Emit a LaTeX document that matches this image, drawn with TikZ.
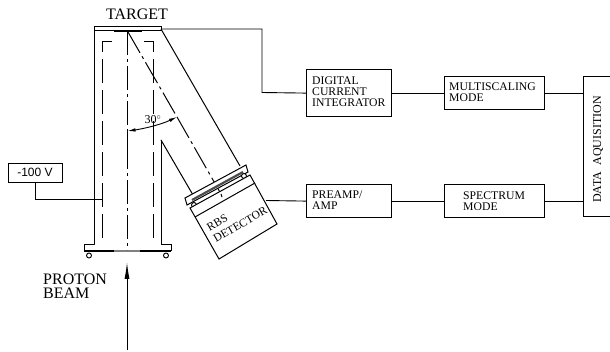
\documentclass[tikz,border=0pt]{standalone}
\usepackage{fontspec}
\setmainfont{Liberation Serif}
\newfontfamily\sansf{Liberation Sans}
\usetikzlibrary{arrows.meta}
\tikzset{
 x=1pt,y=-1pt,
 line/.style={line width=1pt,black},
 wire/.style={line width=0.9pt,black},
 blockbox/.style={draw,line width=1.2pt,inner sep=0pt,anchor=north west},
 blocklabel/.style={font=\fontsize{11.7}{11.3}\selectfont,align=left,anchor=west,inner sep=0pt},
 biglabel/.style={font=\fontsize{16}{14.5}\selectfont,align=left,inner sep=0pt},
 dashdot/.style={line width=1pt,dash pattern=on 24pt off 4pt on 3pt off 4pt},
 longdash/.style={line width=1pt,dash pattern=on 24pt off 7pt},
 pin/.style={draw,circle,line width=0.9pt,fill=white,inner sep=0pt,minimum size=5pt}
}
\begin{document}
\begin{tikzpicture}
\useasboundingbox (0,0) rectangle (610,352);
% blocks
\node[blockbox,minimum width=85pt,minimum height=47pt] (dci) at (306,69) {};
\node[blockbox,minimum width=100pt,minimum height=33pt] (msm) at (444,76) {};
\node[blockbox,minimum width=85pt,minimum height=33pt] (pre) at (306,184) {};
\node[blockbox,minimum width=100pt,minimum height=33pt] (spm) at (444,184) {};
\node[blockbox,minimum width=28pt,minimum height=140pt] (daq) at (583,76) {};
\node[blockbox,minimum width=54pt,minimum height=19pt] (hv) at (8,163) {};
\node[blocklabel] at (312,91.5) {DIGITAL\\CURRENT\\INTEGRATOR};
\node[blocklabel] at (449,92.5) {MULTISCALING\\MODE};
\node[blocklabel] at (312,200) {PREAMP/\\AMP};
\node[blocklabel] at (463,201) {SPECTRUM\\MODE};
\node[font=\fontsize{12}{12}\selectfont,rotate=90,inner sep=0pt] at (598,149.5) {DATA\ \ AQUISITION};
\node[font=\sansf\fontsize{12}{12}\selectfont,inner sep=0pt] at (35,172.5) {-100 V};
\node[biglabel] at (137,14) {TARGET};
\node[biglabel,anchor=west] at (43,286) {PROTON\\BEAM};
% chamber
\draw[line] (94,245) -- (94,27) -- (161,27) -- (161,31) -- (94,31);
\draw[line width=2pt] (114,31) -- (142,31);
\draw[line] (161,140) -- (161,245);
\draw[line,fill=white] (94,245) -- (84,245) -- (84,251) -- (171,251) -- (171,245) -- (161,245);
\draw[line width=1.8pt] (84,251) -- (171,251);
\draw[line width=1.8pt,gray] (114,251) -- (140,251);
\node[pin] (p1) at (89,255.5) {};
\node[pin] (p2) at (166,255.5) {};
% inner shield
\draw[longdash] (102,238) -- (102,42) -- (112,42);
\draw[longdash] (153,238) -- (153,42) -- (144,42);
\draw[dashdot] (127.5,31) -- (127.5,131);
\draw[line] (127.5,131) -- (127.5,145);
\draw[dashdot] (127.5,145) -- (127.5,250);
\draw[dashdot] (128,32) -- (177,117);
\draw[dashdot] (177,117) -- (221,194);
% angle
\coordinate (angA) at (127.5,131);
\coordinate (angB) at (177,117);
\draw[line width=0.9pt,{Latex[length=8pt,width=3.5pt]}-{Latex[length=8pt,width=3.5pt]}] (angA) .. controls (142,129) and (160,125) .. (angB);
\node[font=\fontsize{12}{12}\selectfont,inner sep=0pt] at (153,120) {30$^{\circ}$};
% arm
\draw[line] (161,29) -- (240,166);
\draw[line] (161,140) -- (193,195);
% detector flange
\draw[line,fill=white] (185,198) -- (246,165) -- (248,172) -- (187,205) -- cycle;
\draw[line width=2.2pt,black!70] (192,200) -- (243,172);
\node[pin] at (194,205) {};
\node[pin] at (244,176) {};
% detector body
\draw[line,fill=white] (190,208) -- (250,175) -- (277,224) -- (219,259) -- cycle;
\draw[line] (195,217) -- (255,183);
\draw[line] (221,194) -- (222,197);
\node[font=\fontsize{11.5}{13}\selectfont,align=left,rotate=30,inner sep=0pt] (det) at (237,219) {RBS\\DETECTOR};
\coordinate (detout) at (266,200.5);
% wires
\draw[wire] (161,29) -- (262,29) -- (262,92.5) -- (dci.west);
\draw[wire] (dci.east) -- (msm.west);
\draw[wire] (msm.east) -- (daq.west |- msm.east);
\draw[wire] (detout) -- (pre.west);
\draw[wire] (pre.east) -- (spm.west);
\draw[wire] (spm.east) -- (daq.west |- spm.east);
\draw[wire] (hv.south) -- (hv.south |- 0,199) -- (102,199);
% beam
\coordinate (beamstart) at (127,350);
\coordinate (beamend) at (127,262);
\draw[line width=1pt,-{Latex[length=17pt,width=5pt]}] (beamstart) -- (beamend);
\end{tikzpicture}
\end{document}
